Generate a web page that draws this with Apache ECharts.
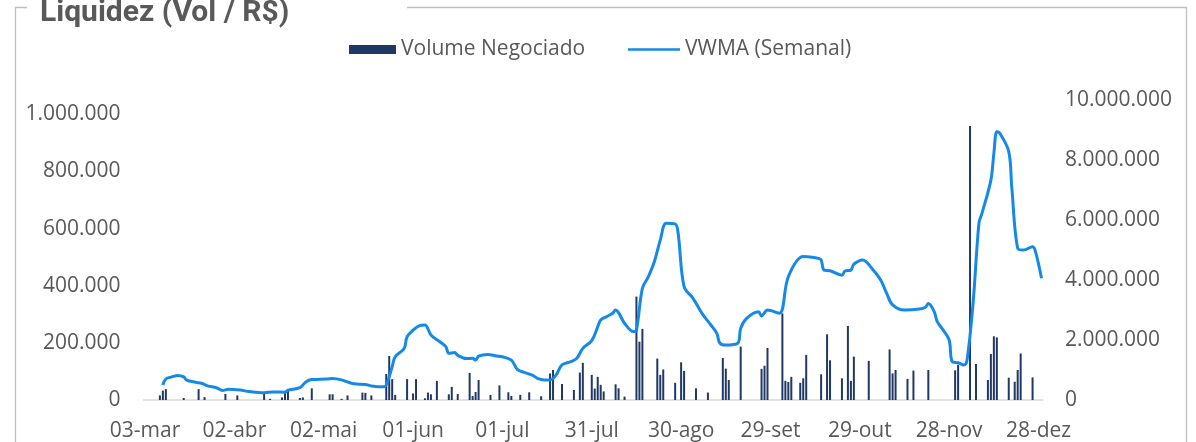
<!DOCTYPE html>
<html>
<head>
<meta charset="utf-8">
<script src="https://cdn.jsdelivr.net/npm/echarts@6/dist/echarts.min.js"></script>
<style>
  html, body { margin: 0; padding: 0; background: #ffffff; }
  #chart { width: 1196px; height: 442px; }
</style>
</head>
<body>
<div id="chart"></div>
<script>
// ---- Data ----
const startDate = [2023, 2, 3];   // 03-mar
const dayCount = 302;             // 03-mar .. 29-dez
const monthNames = ['jan','fev','mar','abr','mai','jun','jul','ago','set','out','nov','dez'];

const tickLabels = ['03-mar','02-abr','02-mai','01-jun','01-jul','31-jul','30-ago','29-set','29-out','28-nov','28-dez'];
const leftTicks = [0, 200000, 400000, 600000, 800000, 1000000];
const rightTicks = [0, 2000000, 4000000, 6000000, 8000000, 10000000];

// Volume Negociado (daily bars, left axis)
const volDates = [
  '08-mar','09-mar','10-mar','16-mar','21-mar','23-mar','30-mar','03-abr','12-abr','14-abr',
  '18-abr','19-abr','20-abr','24-abr','25-abr','28-abr','04-mai','05-mai','08-mai','10-mai',
  '15-mai','16-mai','18-mai','23-mai','24-mai','25-mai','26-mai','30-mai','01-jun','02-jun',
  '05-jun','06-jun','07-jun','09-jun','13-jun','14-jun','16-jun','20-jun','21-jun','22-jun',
  '23-jun','27-jun','30-jun','03-jul','04-jul','07-jul','10-jul','14-jul','17-jul','18-jul',
  '21-jul','25-jul','27-jul','28-jul','31-jul','01-ago','02-ago','03-ago','04-ago','08-ago',
  '09-ago','11-ago','15-ago','16-ago','17-ago','22-ago','23-ago','24-ago','28-ago','30-ago',
  '31-ago','04-set','08-set','13-set','14-set','15-set','19-set','26-set','27-set','28-set',
  '03-out','04-out','05-out','06-out','09-out','10-out','11-out','16-out','18-out','19-out',
  '23-out','25-out','26-out','27-out','01-nov','08-nov','09-nov','10-nov','14-nov','16-nov',
  '21-nov','30-nov','01-dez','05-dez','07-dez','11-dez','12-dez','13-dez','14-dez','18-dez',
  '20-dez','21-dez','22-dez','26-dez'
];
const volValues = [
  16000,33000,38000,7000,38000,10000,21000,16000,21000,4000,
  9000,26000,33000,7000,9000,41000,20000,20000,4000,16000,
  26000,25000,16000,91000,154000,73000,18000,73000,23000,73000,
  6000,26000,20000,67000,20000,46000,21000,95000,14000,28000,
  70000,18000,51000,27000,14000,18000,27000,13000,93000,105000,
  56000,35000,96000,130000,88000,40000,81000,53000,30000,55000,
  41000,12000,362000,204000,249000,145000,88000,107000,60000,132000,
  102000,41000,26000,147000,110000,70000,187000,109000,120000,182000,
  303000,67000,63000,81000,60000,76000,158000,90000,230000,139000,
  76000,259000,67000,152000,137000,177000,93000,105000,74000,103000,
  105000,104000,123000,959000,126000,70000,161000,223000,219000,78000,
  64000,105000,163000,79000
];

// VWMA (Semanal) (line, right axis)
const vwmaDates = [
  '09-mar','10-mar','12-mar','14-mar','16-mar','17-mar','20-mar','22-mar','24-mar','27-mar',
  '29-mar','31-mar','04-abr','07-abr','12-abr','15-abr','19-abr','20-abr','24-abr','26-abr',
  '28-abr','03-mai','05-mai','08-mai','12-mai','16-mai','18-mai','22-mai','23-mai','25-mai',
  '26-mai','29-mai','30-mai','01-jun','03-jun','05-jun','07-jun','10-jun','12-jun','13-jun',
  '15-jun','16-jun','19-jun','21-jun','22-jun','23-jun','26-jun','29-jun','01-jul','04-jul',
  '06-jul','08-jul','11-jul','13-jul','15-jul','17-jul','19-jul','21-jul','24-jul','26-jul',
  '28-jul','31-jul','02-ago','03-ago','05-ago','07-ago','08-ago','09-ago','11-ago','14-ago',
  '15-ago','17-ago','19-ago','21-ago','23-ago','25-ago','28-ago','29-ago','31-ago','03-set',
  '06-set','09-set','11-set','12-set','14-set','18-set','19-set','21-set','25-set','26-set',
  '28-set','02-out','05-out','10-out','13-out','15-out','16-out','17-out','19-out','23-out',
  '24-out','26-out','27-out','30-out','02-nov','05-nov','07-nov','09-nov','13-nov','18-nov',
  '20-nov','21-nov','23-nov','24-nov','26-nov','28-nov','29-nov','01-dez','03-dez','04-dez',
  '06-dez','08-dez','09-dez','12-dez','13-dez','14-dez','15-dez','18-dez','19-dez','21-dez',
  '23-dez','26-dez','27-dez','29-dez'
];
const vwmaValues = [
  500000,700000,770000,820000,770000,660000,590000,560000,470000,410000,
  320000,360000,330000,280000,240000,270000,260000,330000,410000,600000,
  680000,700000,720000,670000,540000,520000,470000,440000,500000,1110000,
  1440000,1720000,2110000,2330000,2470000,2500000,2170000,1940000,1780000,1560000,
  1580000,1490000,1380000,1390000,1330000,1460000,1520000,1470000,1440000,1330000,
  1020000,930000,830000,710000,670000,670000,830000,1170000,1280000,1390000,
  1720000,1980000,2440000,2670000,2780000,2890000,3000000,2910000,2560000,2280000,
  2330000,3720000,4110000,4610000,5330000,5890000,5870000,5560000,3780000,3390000,
  2890000,2500000,2220000,1900000,1830000,1890000,2390000,2720000,2940000,2800000,
  3000000,2890000,4110000,4780000,4760000,4720000,4670000,4330000,4310000,4160000,
  4300000,4330000,4530000,4670000,4390000,4000000,3560000,3170000,3000000,3030000,
  3090000,3220000,2940000,2610000,2330000,2000000,1280000,1240000,1170000,1330000,
  3200000,5900000,6220000,7330000,8220000,8940000,8890000,8280000,7110000,5060000,
  5000000,5110000,4940000,4060000
];

// ---- Build categories (one per calendar day) ----
const days = [];
for (let i = 0; i < dayCount; i++) {
  const d = new Date(Date.UTC(startDate[0], startDate[1], startDate[2] + i));
  days.push(String(d.getUTCDate()).padStart(2, '0') + '-' + monthNames[d.getUTCMonth()]);
}

function fmt(v) {
  return String(Math.round(v)).replace(/\B(?=(\d{3})+(?!\d))/g, '.');
}

const volData = volDates.map((d, i) => [d, volValues[i]]);
const vwmaData = vwmaDates.map((d, i) => [d, vwmaValues[i]]);

const FONT = 'Open Sans';
const TXT = '#595959';
const LINE_COLOR = '#1589E8';

const chart = echarts.init(document.getElementById('chart'), null, { renderer: 'canvas' });
chart.setOption({
  backgroundColor: '#ffffff',
  animation: false,
  title: {
    text: 'Liquidez (Vol / R$)',
    left: 40,
    top: -2,
    padding: 0,
    textStyle: { fontFamily: 'Roboto', fontWeight: 'bold', fontSize: 30, color: TXT }
  },
  graphic: [
    { type: 'polyline', silent: true, shape: { points: [[27, 7.5], [15.5, 7.5], [15.5, 460]] },
      style: { stroke: '#BFBFBF', lineWidth: 1.3, fill: null } },
    { type: 'polyline', silent: true, shape: { points: [[407, 7.5], [1186.5, 7.5], [1186.5, 460]] },
      style: { stroke: '#BFBFBF', lineWidth: 1.3, fill: null } }
  ],
  legend: [
    {
      data: ['Volume Negociado'],
      left: 349, top: 39, padding: 0,
      itemWidth: 47, itemHeight: 9, icon: 'rect',
      textStyle: { fontFamily: FONT, fontSize: 21, color: TXT }
    },
    {
      data: [{ name: 'VWMA (Semanal)', icon: 'rect', itemStyle: { color: LINE_COLOR } }],
      left: 628, top: 39, padding: 0,
      itemWidth: 52, itemHeight: 2.5,
      textStyle: { fontFamily: FONT, fontSize: 21, color: TXT }
    }
  ],
  grid: { left: 143.5, right: 153, top: 100, bottom: 42, containLabel: false },
  xAxis: {
    type: 'category',
    data: days,
    boundaryGap: true,
    axisLine: { show: true, lineStyle: { color: '#D9D9D9', width: 1.5 } },
    axisTick: { show: false },
    splitLine: { show: false },
    axisLabel: {
      interval: (idx, value) => tickLabels.indexOf(value) >= 0,
      margin: 21,
      fontFamily: FONT, fontSize: 21, color: TXT
    }
  },
  yAxis: [
    {
      type: 'value',
      min: leftTicks[0], max: 1050000, interval: leftTicks[1] - leftTicks[0],
      axisLine: { show: false }, axisTick: { show: false }, splitLine: { show: false },
      axisLabel: {
        showMaxLabel: false,
        margin: 23,
        fontFamily: FONT, fontSize: 21, color: TXT,
        formatter: v => (leftTicks.indexOf(v) >= 0 ? fmt(v) : '')
      }
    },
    {
      type: 'value',
      min: rightTicks[0], max: rightTicks[rightTicks.length - 1], interval: rightTicks[1] - rightTicks[0],
      axisLine: { show: false }, axisTick: { show: false }, splitLine: { show: false },
      axisLabel: {
        margin: 22,
        fontFamily: FONT, fontSize: 21, color: TXT,
        formatter: v => (rightTicks.indexOf(v) >= 0 ? fmt(v) : '')
      }
    }
  ],
  series: [
    {
      name: 'Volume Negociado',
      type: 'bar',
      yAxisIndex: 0,
      barWidth: 2,
      itemStyle: { color: '#203864' },
      data: volData,
      z: 2
    },
    {
      name: 'VWMA (Semanal)',
      type: 'line',
      yAxisIndex: 1,
      symbol: 'none',
      showSymbol: false,
      smooth: 0.35,
      lineStyle: { color: LINE_COLOR, width: 3 },
      itemStyle: { color: LINE_COLOR },
      data: vwmaData,
      z: 3
    }
  ]
});
</script>
</body>
</html>
